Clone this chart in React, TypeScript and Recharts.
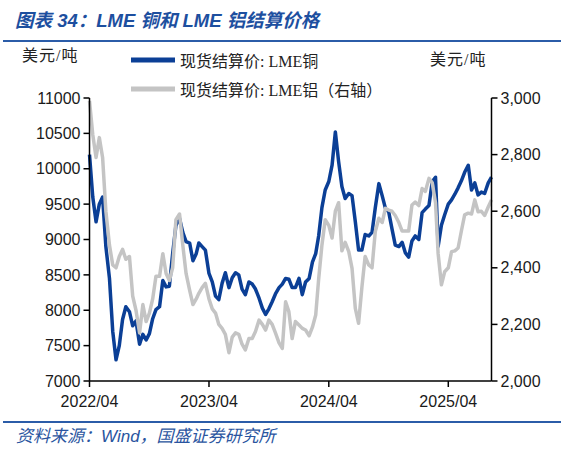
import React from 'react';
import { ComposedChart, Line, XAxis, YAxis, Legend } from 'recharts';

const dates = [
  '2022-04-01','2022-04-11','2022-04-21','2022-05-01','2022-05-11','2022-05-21',
  '2022-06-01','2022-06-11','2022-06-21','2022-07-01','2022-07-11','2022-07-21',
  '2022-08-01','2022-08-11','2022-08-21','2022-09-01','2022-09-11','2022-09-21',
  '2022-10-01','2022-10-11','2022-10-21','2022-11-01','2022-11-11','2022-11-21',
  '2022-12-01','2022-12-11','2022-12-21','2023-01-01','2023-01-11','2023-01-21',
  '2023-02-01','2023-02-11','2023-02-21','2023-03-01','2023-03-11','2023-03-21',
  '2023-04-01','2023-04-11','2023-04-21','2023-05-01','2023-05-11','2023-05-21',
  '2023-06-01','2023-06-11','2023-06-21','2023-07-01','2023-07-11','2023-07-21',
  '2023-08-01','2023-08-11','2023-08-21','2023-09-01','2023-09-11','2023-09-21',
  '2023-10-01','2023-10-11','2023-10-21','2023-11-01','2023-11-11','2023-11-21',
  '2023-12-01','2023-12-11','2023-12-21','2024-01-01','2024-01-11','2024-01-21',
  '2024-02-01','2024-02-11','2024-02-21','2024-03-01','2024-03-11','2024-03-21',
  '2024-04-01','2024-04-11','2024-04-21','2024-05-01','2024-05-11','2024-05-21',
  '2024-06-01','2024-06-11','2024-06-21','2024-07-01','2024-07-11','2024-07-21',
  '2024-08-01','2024-08-11','2024-08-21','2024-09-01','2024-09-11','2024-09-21',
  '2024-10-01','2024-10-11','2024-10-21','2024-11-01','2024-11-11','2024-11-21',
  '2024-12-01','2024-12-11','2024-12-21','2025-01-01','2025-01-11','2025-01-21',
  '2025-02-01','2025-02-11','2025-02-21','2025-03-01','2025-03-11','2025-03-21',
  '2025-04-01','2025-04-11','2025-04-21','2025-05-01','2025-05-11','2025-05-21',
  '2025-06-01','2025-06-11','2025-06-21','2025-07-01','2025-07-11','2025-07-21',
  '2025-08-01','2025-08-11',
];

const copper = [
  10200, 9600, 9250, 9500, 9600, 8900,
  8450, 7700, 7300, 7500, 7870, 8050,
  7980, 7780, 7850, 7520, 7660, 7580,
  7670, 7880, 8010, 8050, 8420, 8330,
  8340, 8800, 9200, 9300, 9100, 8970,
  8950, 8700, 8800, 8950, 8900, 8850,
  8520, 8400, 8200, 8150, 8380, 8530,
  8320, 8460, 8530, 8500, 8300, 8220,
  8400, 8370, 8300, 8170, 8030, 7940,
  8020, 8120, 8230, 8320, 8370, 8450,
  8440, 8320, 8320, 8450, 8220, 8400,
  8450, 8680, 8800, 9050, 9450, 9700,
  9820, 10050, 10520, 10100, 9750, 9580,
  9650, 9620, 9250, 8850, 8850, 9070,
  9050, 9100, 9450, 9790, 9620, 9440,
  9390, 9150, 8920, 8900, 8960, 8810,
  8750, 8980, 9050, 9000, 9380, 9430,
  9480, 9820, 9880, 8900, 9200, 9350,
  9500, 9560, 9640, 9730, 9830, 9950,
  10050, 9700, 9800, 9630, 9670, 9650,
  9800, 9880,
];

const aluminum = [
  2990, 2870, 2790, 2860, 2790, 2600,
  2480, 2410, 2400, 2440, 2465, 2430,
  2440, 2300, 2250, 2170, 2270, 2210,
  2240, 2290, 2370, 2370, 2450, 2380,
  2355, 2400, 2570, 2590, 2480, 2380,
  2320, 2270, 2290, 2310, 2330, 2345,
  2290, 2255, 2240, 2200, 2186, 2165,
  2100, 2155, 2170, 2165, 2130, 2110,
  2150, 2150, 2175, 2215, 2200, 2180,
  2215, 2200, 2170, 2135, 2115, 2280,
  2245, 2150, 2210, 2198, 2186, 2180,
  2160, 2190, 2233, 2360, 2480, 2570,
  2550, 2505, 2600, 2630, 2460, 2490,
  2457, 2398, 2257, 2204, 2330, 2440,
  2410, 2400, 2528, 2575, 2560, 2610,
  2604, 2600, 2585, 2560, 2530, 2530,
  2530, 2622, 2632, 2620, 2680, 2670,
  2716, 2700, 2630, 2450, 2340, 2386,
  2400, 2457, 2460, 2470, 2530, 2587,
  2593, 2590, 2640, 2598, 2600, 2585,
  2615, 2640,
];

const xTickDates = ['2022-04-01', '2023-04-01', '2024-04-01', '2025-04-01'];
const leftTicks = [7000, 7500, 8000, 8500, 9000, 9500, 10000, 10500, 11000];
const rightTicks = [2000, 2200, 2400, 2600, 2800, 3000];

const seriesNames = ['现货结算价: LME铜', '现货结算价: LME铝（右轴）'];
const titleText = '图表 34：LME 铜和 LME 铝结算价格';
const sourceText = '资料来源：Wind，国盛证券研究所';
const unitText = '美元/吨';

const toTs = (s: string) => Date.UTC(+s.slice(0, 4), +s.slice(5, 7) - 1, +s.slice(8, 10));
const data = dates.map((d, i) => ({ t: toTs(d), copper: copper[i], aluminum: aluminum[i] }));
const xTicks = xTickDates.map(toTs);

const BLUE = '#0b3f96';
const GRAY = '#c4c4c4';
const TITLE_BLUE = '#1d4f9f';

const fmtDate = (v: number) => {
  const d = new Date(v);
  return `${d.getUTCFullYear()}/${String(d.getUTCMonth() + 1).padStart(2, '0')}`;
};

const serifFont = '"Liberation Serif", "Noto Sans CJK SC", serif';

const legendContent = (props: any) => {
  const payload = props.payload || [];
  return (
    <div>
      {payload.map((p: any, i: number) => (
        <div key={i} style={{ display: 'flex', alignItems: 'center', height: 29 }}>
          <svg width={49} height={10} style={{ display: 'block' }}>
            <line x1={0} y1={5} x2={44} y2={5} stroke={p.color} strokeWidth={5} />
          </svg>
          <span style={{ fontSize: 16, color: '#222', fontFamily: serifFont, whiteSpace: 'nowrap' }}>
            {p.value}
          </span>
        </div>
      ))}
    </div>
  );
};

const tickStyle = { fontSize: 16, fill: '#1a1a1a', fontFamily: '"Liberation Sans", Arial, sans-serif' };

export default function App() {
  return (
    <div style={{ position: 'absolute', left: 0, top: 0, width: 561, height: 451, background: '#fff', overflow: 'hidden' }}>
      <div style={{ position: 'absolute', left: 15, top: 8, fontSize: 18.5, fontWeight: 'bold', fontStyle: 'italic', color: TITLE_BLUE, fontFamily: '"Liberation Sans", "Noto Sans CJK SC", sans-serif', whiteSpace: 'nowrap', lineHeight: '26px' }}>
        {titleText}
      </div>
      <div style={{ position: 'absolute', left: 3, top: 40, width: 558, height: 2, background: '#2b5ca8' }} />
      <div style={{ position: 'absolute', left: 22, top: 46, fontSize: 16, letterSpacing: 1, color: '#222', fontFamily: serifFont, lineHeight: '20px' }}>
        {unitText}
      </div>
      <div style={{ position: 'absolute', left: 430, top: 50, fontSize: 16, letterSpacing: 1, color: '#222', fontFamily: serifFont, lineHeight: '20px' }}>
        {unitText}
      </div>
      <div style={{ position: 'absolute', left: 0, top: 0 }}>
        <ComposedChart width={561} height={451} data={data} margin={{ top: 98, right: 0, bottom: 40, left: 0 }}>
          <XAxis
            dataKey="t"
            type="number"
            domain={[data[0].t, data[data.length - 1].t]}
            ticks={xTicks}
            interval={0}
            tickFormatter={fmtDate}
            axisLine={{ stroke: '#000', strokeWidth: 1.5 }}
            tickLine={{ stroke: '#000', strokeWidth: 1.5 }}
            tickSize={6}
            tickMargin={9}
            height={30}
            tick={tickStyle}
          />
          <YAxis
            yAxisId="l"
            domain={[7000, 11000]}
            ticks={leftTicks}
            interval={0}
            width={89.5}
            axisLine={{ stroke: '#000', strokeWidth: 1.5 }}
            tickLine={{ stroke: '#000', strokeWidth: 1.5 }}
            tickSize={6}
            tickMargin={3}
            tick={tickStyle}
          />
          <YAxis
            yAxisId="r"
            orientation="right"
            domain={[2000, 3000]}
            ticks={rightTicks}
            interval={0}
            width={69.5}
            axisLine={{ stroke: '#000', strokeWidth: 1.5 }}
            tickLine={{ stroke: '#000', strokeWidth: 1.5 }}
            tickSize={6}
            tickMargin={3}
            tickFormatter={(v: number) => v.toLocaleString('en-US')}
            tick={tickStyle}
          />
          <Legend
            layout="vertical"
            align="center"
            verticalAlign="middle"
            content={legendContent}
            wrapperStyle={{ left: 131, top: 45, width: 320, height: 60 }}
          />
          <Line
            yAxisId="l"
            dataKey="copper"
            name={seriesNames[0]}
            stroke={BLUE}
            strokeWidth={3.5}
            dot={false}
            activeDot={false}
            strokeLinejoin="round"
            isAnimationActive={false}
          />
          <Line
            yAxisId="r"
            dataKey="aluminum"
            name={seriesNames[1]}
            stroke={GRAY}
            strokeWidth={3.5}
            dot={false}
            activeDot={false}
            strokeLinejoin="round"
            isAnimationActive={false}
          />
        </ComposedChart>
      </div>
      <div style={{ position: 'absolute', left: 3, top: 421, width: 558, height: 2, background: '#2b5ca8' }} />
      <div style={{ position: 'absolute', left: 16, top: 426, fontSize: 17, fontStyle: 'italic', color: '#2a55a0', fontFamily: '"Liberation Sans", "Noto Sans CJK SC", sans-serif', whiteSpace: 'nowrap', lineHeight: '22px' }}>
        {sourceText}
      </div>
    </div>
  );
}
